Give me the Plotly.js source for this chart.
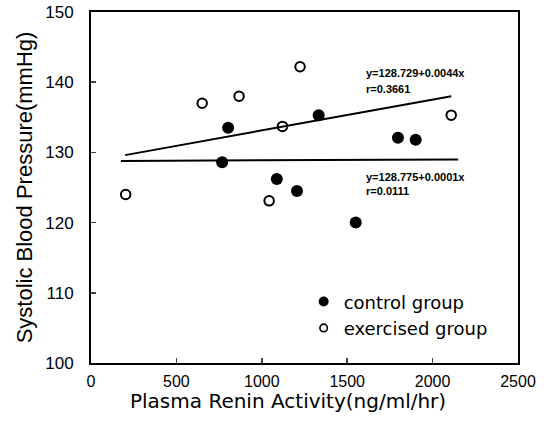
<!DOCTYPE html>
<html><head><meta charset="utf-8">
<script src="https://cdn.plot.ly/plotly-3.0.1.min.js"></script>
<style>body{margin:0;background:#fff}#c{width:553px;height:440px}</style>
</head><body><div id="c"></div>
<script>
const controlX = [768, 803, 1088, 1206, 1333, 1550, 1797, 1901];
const controlY = [128.6, 133.5, 126.2, 124.5, 135.3, 120.0, 132.1, 131.8];
const exercisedX = [203, 651, 867, 1043, 1121, 1224, 2109];
const exercisedY = [124.0, 137.0, 138.0, 123.1, 133.7, 142.2, 135.3];
const fitUpperX = [200, 2110];
const fitUpperY = fitUpperX.map(x => 128.729 + 0.0044 * x);
const fitLowerX = [175, 2150];
const fitLowerY = fitLowerX.map(x => 128.775 + 0.0001 * x);
const xTicks = [0, 500, 1000, 1500, 2000, 2500];
const yTicks = [100, 110, 120, 130, 140, 150];
const seriesNames = ['control group', 'exercised group'];

const traces = [
  {x: fitUpperX, y: fitUpperY, mode: 'lines', line: {color: '#000', width: 2}, showlegend: false, hoverinfo: 'skip'},
  {x: fitLowerX, y: fitLowerY, mode: 'lines', line: {color: '#000', width: 2}, showlegend: false, hoverinfo: 'skip'},
  {x: controlX, y: controlY, mode: 'markers', showlegend: false,
   marker: {symbol: 'circle', size: 12, color: '#000'}},
  {x: exercisedX, y: exercisedY, mode: 'markers', showlegend: false,
   marker: {symbol: 'circle-open', size: 9.5, color: '#000', line: {width: 2, color: '#000'}}},
  {x: [null], y: [null], mode: 'markers', name: seriesNames[0], legendgroup: 'a',
   marker: {symbol: 'circle', size: 10, color: '#000'}},
  {x: [null], y: [null], mode: 'markers', name: seriesNames[1], legendgroup: 'b',
   marker: {symbol: 'circle-open', size: 7.5, color: '#000', line: {width: 1.6, color: '#000'}}}
];
const annFont = {family: 'Liberation Sans Narrow, Liberation Sans, Arial', size: 11, color: '#000', weight: 'bold'};
const layout = {
  width: 553, height: 440,
  margin: {l: 91, r: 35, t: 12, b: 77},
  paper_bgcolor: '#fff', plot_bgcolor: '#fff',
  font: {family: 'Liberation Sans, Arial', color: '#000'},
  xaxis: {range: [0, 2500], tickvals: xTicks, ticks: 'inside', ticklen: 5, tickwidth: 1.5,
    showgrid: false, zeroline: false, showline: true, linewidth: 2, linecolor: '#000', mirror: true,
    ticklabelstandoff: 3, tickfont: {size: 16}},
  yaxis: {range: [100, 150], tickvals: yTicks, ticks: 'inside', ticklen: 5, tickwidth: 1.5,
    showgrid: false, zeroline: false, showline: true, linewidth: 2, linecolor: '#000', mirror: true,
    ticklabelstandoff: 12,
    tickfont: {size: 17}, title: {text: 'Systolic Blood Pressure(mmHg)', font: {size: 22}, standoff: 7}},
  legend: {x: 0.498, y: 0.227, xanchor: 'left', yanchor: 'top', bgcolor: 'rgba(0,0,0,0)',
    font: {size: 18, family: 'DejaVu Sans'}, itemwidth: 30, tracegroupgap: 0},
  annotations: [
    {x: 0.461, y: -0.108, xref: 'paper', yref: 'paper', text: 'Plasma Renin Activity(ng/ml/hr)', showarrow: false,
     xanchor: 'center', yanchor: 'middle', font: {size: 20, family: 'DejaVu Sans', color: '#000'}},
    {x: 1600, y: 141.3, xref: 'x', yref: 'y', text: 'y=128.729+0.0044x', showarrow: false, xanchor: 'left', yanchor: 'middle', font: annFont},
    {x: 1600, y: 139.1, xref: 'x', yref: 'y', text: 'r=0.3661', showarrow: false, xanchor: 'left', yanchor: 'middle', font: annFont},
    {x: 1600, y: 126.5, xref: 'x', yref: 'y', text: 'y=128.775+0.0001x', showarrow: false, xanchor: 'left', yanchor: 'middle', font: annFont},
    {x: 1600, y: 124.5, xref: 'x', yref: 'y', text: 'r=0.0111', showarrow: false, xanchor: 'left', yanchor: 'middle', font: annFont}
  ]
};
Plotly.newPlot('c', traces, layout, {staticPlot: true});
</script></body></html>
